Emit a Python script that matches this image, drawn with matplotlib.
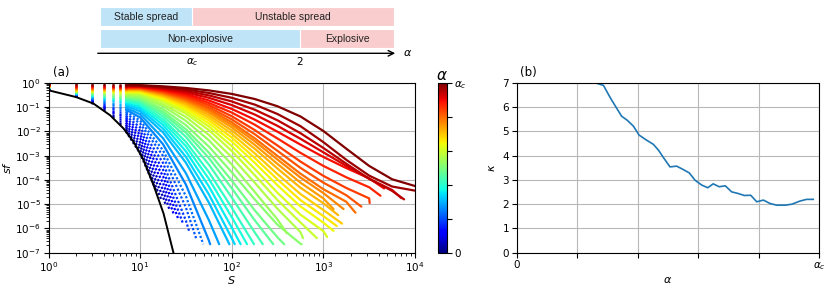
import numpy as np
import matplotlib
matplotlib.use("Agg")
import matplotlib.pyplot as plt
from matplotlib.patches import Rectangle
from matplotlib.colors import Normalize
from matplotlib.cm import ScalarMappable

# ---- panel (a): survival functions, one row per alpha/alpha_c ----
# values are decades below 1, i.e. -log10(sf), read at S_grid points
S_grid = [1, 2, 3, 4, 5, 6, 7, 10, 17.8, 31.6, 56.2, 100, 178, 316, 562,
          1000, 1780, 3160, 5620, 10000]

alpha_frac = [0.0, 0.026, 0.051, 0.077, 0.103, 0.128, 0.154, 0.179, 0.205, 0.231,
              0.256, 0.282, 0.308, 0.333, 0.359, 0.385, 0.41, 0.436, 0.462, 0.487,
              0.513, 0.538, 0.564, 0.59, 0.615, 0.641, 0.667, 0.692, 0.718, 0.744,
              0.769, 0.795, 0.821, 0.846, 0.872, 0.897, 0.923, 0.949, 0.974, 1.0]

sf_decades = [
    [0.22, 0.54, 0.82, 1.11, 1.40, 1.70, 2.00, 2.90],
    [0.22, 0.53, 0.80, 1.08, 1.35, 1.63, 1.91, 2.75],
    [0.21, 0.52, 0.78, 1.04, 1.30, 1.56, 1.82, 2.59, 4.70],
    [0.21, 0.52, 0.76, 1.01, 1.25, 1.49, 1.73, 2.44, 4.42],
    [0.21, 0.51, 0.74, 0.97, 1.19, 1.41, 1.63, 2.28, 4.13],
    [0.20, 0.50, 0.72, 0.93, 1.14, 1.34, 1.54, 2.13, 3.85],
    [0.20, 0.49, 0.70, 0.89, 1.08, 1.27, 1.45, 1.98, 3.58],
    [0.20, 0.48, 0.67, 0.86, 1.03, 1.20, 1.36, 1.83, 3.30, 5.68],
    [0.19, 0.47, 0.65, 0.81, 0.97, 1.12, 1.26, 1.67, 3.01, 5.14],
    [0.19, 0.46, 0.63, 0.78, 0.92, 1.05, 1.18, 1.55, 2.78, 4.67],
    [0.18, 0.45, 0.60, 0.74, 0.87, 0.99, 1.10, 1.42, 2.53, 4.19, 6.49],
    [0.18, 0.44, 0.58, 0.70, 0.81, 0.92, 1.02, 1.29, 2.28, 3.72, 5.65],
    [0.18, 0.43, 0.56, 0.67, 0.76, 0.85, 0.94, 1.17, 2.04, 3.29, 4.93],
    [0.17, 0.42, 0.53, 0.63, 0.72, 0.80, 0.87, 1.07, 1.88, 3.05, 4.59, 6.40],
    [0.17, 0.41, 0.51, 0.60, 0.68, 0.75, 0.81, 0.98, 1.73, 2.82, 4.26, 5.96],
    [0.16, 0.40, 0.50, 0.57, 0.64, 0.70, 0.76, 0.91, 1.60, 2.61, 3.95, 5.53],
    [0.16, 0.39, 0.48, 0.55, 0.61, 0.67, 0.72, 0.85, 1.49, 2.43, 3.67, 5.14],
    [0.16, 0.38, 0.46, 0.52, 0.57, 0.62, 0.67, 0.78, 1.37, 2.22, 3.36, 4.72, 6.16],
    [0.15, 0.37, 0.44, 0.49, 0.54, 0.58, 0.62, 0.72, 1.26, 2.05, 3.09, 4.34, 5.66],
    [0.15, 0.36, 0.42, 0.48, 0.52, 0.56, 0.59, 0.68, 1.18, 1.91, 2.87, 4.02, 5.25, 6.37],
    [0.14, 0.35, 0.41, 0.45, 0.49, 0.52, 0.55, 0.62, 1.08, 1.74, 2.62, 3.68, 4.80, 5.85, 6.63],
    [0.14, 0.34, 0.39, 0.42, 0.45, 0.48, 0.50, 0.56, 0.96, 1.56, 2.36, 3.36, 4.49, 5.63],
    [0.13, 0.33, 0.37, 0.39, 0.42, 0.44, 0.46, 0.50, 0.87, 1.40, 2.14, 3.06, 4.11, 5.19, 6.15],
    [0.13, 0.32, 0.34, 0.36, 0.38, 0.40, 0.41, 0.44, 0.77, 1.26, 1.94, 2.80, 3.80, 4.83, 5.75],
    [0.12, 0.31, 0.33, 0.34, 0.36, 0.37, 0.38, 0.40, 0.70, 1.16, 1.79, 2.60, 3.54, 4.53, 5.43, 6.11],
    [0.12, 0.29, 0.31, 0.32, 0.33, 0.34, 0.35, 0.37, 0.65, 1.07, 1.66, 2.41, 3.29, 4.22, 5.09, 5.76],
    [0.11, 0.28, 0.29, 0.30, 0.31, 0.32, 0.33, 0.34, 0.60, 0.99, 1.54, 2.25, 3.09, 3.98, 4.83, 5.49],
    [0.11, 0.27, 0.28, 0.28, 0.29, 0.30, 0.30, 0.31, 0.55, 0.91, 1.43, 2.10, 2.90, 3.76, 4.58, 5.24],
    [0.10, 0.25, 0.26, 0.27, 0.27, 0.28, 0.28, 0.29, 0.51, 0.85, 1.33, 1.96, 2.71, 3.53, 4.32, 4.96],
    [0.10, 0.24, 0.24, 0.25, 0.25, 0.25, 0.26, 0.26, 0.47, 0.78, 1.23, 1.83, 2.55, 3.34, 4.11, 4.76],
    [0.09, 0.22, 0.23, 0.23, 0.24, 0.24, 0.24, 0.245, 0.44, 0.73, 1.16, 1.72, 2.40, 3.16, 3.90, 4.54],
    [0.085, 0.21, 0.21, 0.22, 0.22, 0.22, 0.22, 0.225, 0.40, 0.68, 1.08, 1.62, 2.28, 3.01, 3.74, 4.38, 4.90],
    [0.08, 0.19, 0.20, 0.20, 0.20, 0.20, 0.21, 0.21, 0.38, 0.63, 1.00, 1.50, 2.11, 2.80, 3.50, 4.11, 4.63],
    [0.07, 0.18, 0.18, 0.18, 0.18, 0.19, 0.19, 0.19, 0.34, 0.57, 0.91, 1.37, 1.94, 2.58, 3.24, 3.83, 4.33, 4.76],
    [0.064, 0.157, 0.161, 0.165, 0.167, 0.169, 0.171, 0.175, 0.31, 0.52, 0.82, 1.22, 1.72, 2.29, 2.88, 3.42, 3.89, 4.30],
    [0.056, 0.138, 0.143, 0.147, 0.150, 0.153, 0.155, 0.16, 0.28, 0.46, 0.72, 1.07, 1.51, 2.01, 2.54, 3.05, 3.51, 3.93],
    [0.047, 0.116, 0.122, 0.126, 0.129, 0.132, 0.134, 0.14, 0.24, 0.39, 0.61, 0.91, 1.30, 1.77, 2.30, 2.86, 3.42, 3.95, 4.41],
    [0.037, 0.091, 0.098, 0.103, 0.107, 0.110, 0.113, 0.12, 0.20, 0.33, 0.51, 0.76, 1.10, 1.54, 2.07, 2.68, 3.33, 3.95, 4.45],
    [0.024, 0.06, 0.069, 0.076, 0.083, 0.088, 0.093, 0.105, 0.17, 0.27, 0.41, 0.61, 0.89, 1.28, 1.78, 2.44, 3.17, 3.82, 4.27],
    [0.0, 0.03, 0.04, 0.048, 0.056, 0.064, 0.071, 0.09, 0.136, 0.205, 0.305, 0.45, 0.66, 0.96, 1.38, 1.98, 2.71, 3.42, 3.97],
]

end_S = [15.2, 17.0, 18.9, 20.8, 23.2, 26.0, 29.4, 34.2, 40.8, 48.9,
         58.1, 72.9, 94.2, 107.8, 125, 147, 175, 218, 284, 374,
         580, 400, 600, 850, 1100, 1290, 1400, 1600, 1450, 1290,
         1660, 2240, 2600, 3200, 4200, 4600, 7100, 7600, 10000, 10000]
end_decades = [4.5, 4.8, 5.0, 5.2, 5.4, 5.6, 5.8, 6.1, 6.4, 6.65,
               6.65, 6.65, 6.65, 6.65, 6.65, 6.65, 6.65, 6.65, 6.65, 6.65,
               6.65, 6.2, 6.4, 6.4, 6.35, 6.1, 5.9, 5.8, 5.45, 5.2,
               5.2, 5.35, 5.1, 4.95, 4.65, 4.35, 4.75, 4.8, 4.44, 4.25]

black_S = [1, 2, 3.1, 4.7, 6.6, 8.5, 10.9, 14, 18, 23.1]
black_decades = [0.30, 0.58, 0.85, 1.33, 1.88, 2.43, 3.18, 4.21, 5.38, 7.0]

# ---- panel (b): kappa vs alpha/alpha_c ----
kappa_x = [0.262, 0.287, 0.311, 0.347, 0.366, 0.386, 0.405, 0.430, 0.452, 0.469,
           0.485, 0.507, 0.529, 0.551, 0.571, 0.590, 0.612, 0.632, 0.650, 0.670,
           0.690, 0.711, 0.733, 0.753, 0.774, 0.794, 0.816, 0.838, 0.860, 0.888,
           0.910, 0.937, 0.959, 0.981]
kappa = [7.0, 6.90, 6.36, 5.63, 5.46, 5.22, 4.85, 4.64, 4.47, 4.23,
         3.93, 3.54, 3.57, 3.43, 3.29, 2.99, 2.79, 2.68, 2.84, 2.72,
         2.76, 2.51, 2.44, 2.36, 2.37, 2.10, 2.17, 2.03, 1.96, 1.96,
         2.00, 2.13, 2.20, 2.20]

# ---- schematic on top ----
diag_alpha_c = 0.92
diag_two = 2.0
diag_max = 2.94
row1 = [("Stable spread", 0.0, diag_alpha_c, "#bfe4f8"),
        ("Unstable spread", diag_alpha_c, diag_max, "#f9cdcd")]
row2 = [("Non-explosive", 0.0, diag_two, "#bfe4f8"),
        ("Explosive", diag_two, diag_max, "#f9cdcd")]

plt.rcParams['font.family'] = ['DejaVu Sans']
fig = plt.figure(figsize=(8.3, 2.9), dpi=100)
W, H = 830.0, 290.0

# top diagram
axd = fig.add_axes([95 / W, 1 - 68 / H, 303 / W, 68 / H])
axd.set_xlim(-0.05, 2.98)
axd.set_ylim(68, 0)
axd.axis('off')
for (y0, hgt, row) in [(6.7, 19.3, row1), (29.3, 19.0, row2)]:
    for lab, x0, x1, c in row:
        axd.add_patch(Rectangle((x0, y0), x1 - x0, hgt, facecolor=c,
                                edgecolor='white', lw=0.8))
        axd.text((x0 + x1) / 2, y0 + hgt / 2 + 0.5, lab, ha='center', va='center',
                 fontsize=7.5, family='Liberation Sans', color='#222222')
axd.annotate('', xy=(2.98, 53.3), xytext=(-0.05, 53.3),
             arrowprops=dict(arrowstyle='->', lw=1.0, color='black'))
axd.text(3.03, 53.3, r'$\alpha$', ha='left', va='center', fontsize=8, clip_on=False)
axd.text(diag_alpha_c, 62, r'$\alpha_c$', ha='center', va='center', fontsize=7.5)
axd.text(diag_two, 62, '2', ha='center', va='center', fontsize=7.5)

# panel (a)
ax = fig.add_axes([48.5 / W, 1 - 252.7 / H, 366.5 / W, 169.7 / H])
cmap = plt.get_cmap('jet')
for a, row, se, fe in zip(alpha_frac, sf_decades, end_S, end_decades):
    col = cmap(a)
    S = np.array(S_grid[:len(row)], dtype=float)
    sf = 10.0 ** (-np.array(row))
    ax.plot(S[:7], sf[:7], 's', ms=1.7, mec='none', color=col)
    # low-alpha runs look dotted (sparse integer sizes)
    ls = (0, (1.0, 0.9)) if a < 0.24 else '-'
    ax.plot(np.append(S[6:], se), 10.0 ** (-np.append(row[6:], fe)),
            color=col, lw=1.6, ls=ls, solid_capstyle='round')
ax.plot(black_S, 10.0 ** (-np.array(black_decades)), color='black', lw=1.4)
ax.set_xscale('log')
ax.set_yscale('log')
ax.set_xlim(1, 1e4)
ax.set_ylim(1e-7, 1)
ax.set_yticks([10.0 ** -i for i in range(8)])
ax.grid(True, which='major', color='#b8b8b8', lw=0.8)
ax.set_axisbelow(True)
ax.tick_params(labelsize=7.5, pad=2)
ax.set_xlabel(r'$S$', fontsize=8, labelpad=0)
ax.set_ylabel(r'$sf$', fontsize=8, labelpad=2)
ax.text(0.012, 1.025, '(a)', transform=ax.transAxes, fontsize=8.5, va='bottom')

# colorbar
cax = fig.add_axes([437.7 / W, 1 - 252.7 / H, 9 / W, 169.7 / H])
sm = ScalarMappable(norm=Normalize(0, 1), cmap=cmap)
cb = fig.colorbar(sm, cax=cax, ticks=[0, 0.2, 0.4, 0.6, 0.8, 1.0])
cb.ax.set_yticklabels(['0', '', '', '', '', r'$\alpha_c$'])
cb.ax.tick_params(labelsize=7.5, pad=2)
cb.outline.set_linewidth(0.8)
cb.ax.set_title(r'$\alpha$', fontsize=11, pad=2)

# panel (b)
axb = fig.add_axes([516.7 / W, 1 - 252.7 / H, 302.3 / W, 169.7 / H])
axb.plot(kappa_x, kappa, color='#1f77b4', lw=1.2)
axb.set_xlim(0, 1)
axb.set_ylim(0, 7)
axb.set_xticks([0, 0.2, 0.4, 0.6, 0.8, 1.0])
axb.set_xticklabels(['0', '', '', '', '', r'$\alpha_c$'])
axb.set_yticks(range(8))
axb.grid(True, color='#b8b8b8', lw=0.8)
axb.set_axisbelow(True)
axb.tick_params(labelsize=7.5, pad=2)
axb.set_xlabel(r'$\alpha$', fontsize=8, labelpad=2)
axb.set_ylabel(r'$\kappa$', fontsize=8, labelpad=4)
axb.text(0.012, 1.025, '(b)', transform=axb.transAxes, fontsize=8.5, va='bottom')

fig.savefig('out.png', dpi=100)
